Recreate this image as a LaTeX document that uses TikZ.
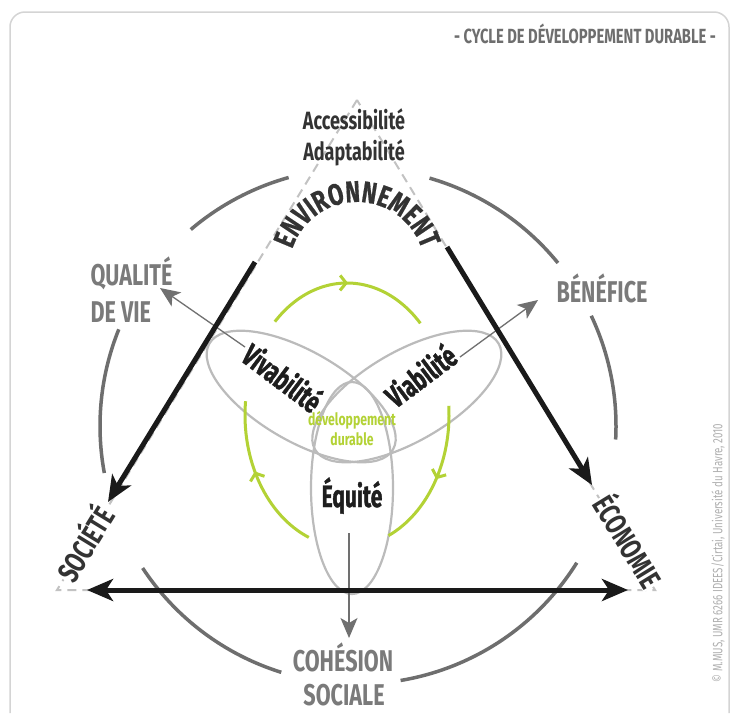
\documentclass[tikz,border=0pt]{standalone}
\usepackage{fontspec}
\setmainfont{Fira Sans}[FakeStretch=0.72]
\newfontfamily\heavyfont{Fira Sans}[FakeStretch=0.68,FakeBold=1.2]
\newfontfamily\envfont{Fira Sans}[FakeStretch=0.74,FakeBold=0.6]
\usetikzlibrary{arrows.meta,decorations.text,decorations.markings}
\definecolor{framecol}{HTML}{D4D4D4}
\definecolor{titlecol}{HTML}{6E6E6E}
\definecolor{darktext}{HTML}{333333}
\definecolor{blacktext}{HTML}{1E1E1E}
\definecolor{labelgray}{HTML}{7A7A7A}
\definecolor{arcgray}{HTML}{6E6E6E}
\definecolor{dashgray}{HTML}{C2C2C2}
\definecolor{ellgray}{HTML}{BBBBBB}
\definecolor{cyclegreen}{HTML}{B3D235}
\definecolor{arrowblack}{HTML}{1A1A1A}
\definecolor{thingray}{HTML}{707070}
\definecolor{copycol}{HTML}{AFAFAF}
\begin{document}
\begin{tikzpicture}[x=1pt,y=1pt,
  bigarrow/.style={arrowblack,line width=5pt,-{Stealth[length=26pt,width=22pt,inset=7pt]}},
  bigdouble/.style={arrowblack,line width=5pt,{Stealth[length=26pt,width=22pt,inset=7pt]}-{Stealth[length=26pt,width=22pt,inset=7pt]}},
  thinarrow/.style={thingray,line width=1.3pt,-{Stealth[length=20pt,width=17pt,inset=5pt]}},
  greyarc/.style={arcgray,line width=3.5pt},
  petal/.style={ellgray,line width=2.2pt},
  greenarc/.style={cyclegreen,line width=3pt,postaction={decorate},
     decoration={markings,mark=at position #1 with {\arrow{Straight Barb[length=6pt,width=15pt,line width=3pt]}}}},
  labelfont/.style={labelgray,font=\fontsize{30}{30}\selectfont\bfseries},
  cornerfont/.style={darktext,font=\fontsize{30}{30}\selectfont\bfseries,fill=white,inner sep=1pt},
  petalfont/.style={blacktext,font=\heavyfont\fontsize{31}{31}\selectfont\bfseries},
  topfont/.style={darktext,font=\fontsize{25}{25}\selectfont\bfseries},
  greenfont/.style={cyclegreen,font=\fontsize{17}{17}\selectfont\bfseries}
]
\useasboundingbox (0,0) rectangle (730,-713);
\fill[white] (0,0) rectangle (730,-713);
% frame
\draw[framecol,line width=1.5pt] (10,-713) -- (10,-27) arc[start angle=180,end angle=90,radius=15]
  -- (714,-12) arc[start angle=90,end angle=0,radius=15] -- (729,-713);
% title
\node[titlecol,font=\fontsize{20.5}{20.5}\selectfont\bfseries,anchor=base] (title) at (585,-43) {- CYCLE DE DÉVELOPPEMENT DURABLE -};
% triangle corners
\coordinate (apex) at (357,-100);
\coordinate (bl) at (57,-590);
\coordinate (br) at (655,-590);
\draw[dashgray,line width=2pt,dash pattern=on 9pt off 6pt] (apex) -- (bl) -- (br) -- cycle;
% big grey circle arcs
\coordinate (cc) at (358,-426);
\draw[greyarc] (cc) ++(105.6:258) arc[start angle=105.6,end angle=130.4,radius=258];
\draw[greyarc] (cc) ++(158:258) arc[start angle=158,end angle=190.5,radius=258];
\draw[greyarc] (cc) ++(213.4:258) arc[start angle=213.4,end angle=252.7,radius=258];
\draw[greyarc] (cc) ++(279.5:258) arc[start angle=279.5,end angle=328,radius=258];
\draw[greyarc] (cc) ++(-3:258) arc[start angle=-3,end angle=25.3,radius=258];
\draw[greyarc] (cc) ++(39.2:258) arc[start angle=39.2,end angle=73.9,radius=258];
% top texts
\node[topfont,anchor=base] (access) at (354,-129) {Accessibilité};
\node[topfont,anchor=base] (adapt) at (354,-160) {Adaptabilité};
\path[decorate,decoration={text along path,text align=center,
   text={|\envfont\fontsize{30}{30}\selectfont\bfseries\color{darktext}|ENVIRONNEMENT}}]
   (357,-270) ++(179:68) arc[start angle=179,end angle=1,radius=68];
% corner texts
\node[cornerfont,rotate=58.5] (soc) at (83,-543) {SOCIÉTÉ};
\node[cornerfont,rotate=-58.5] (eco) at (630,-540) {ÉCONOMIE};
% outer labels
\node[labelfont,anchor=base west] (qual) at (87,-285) {QUALITÉ};
\node[labelfont,anchor=base west] (devie) at (87,-322) {DE VIE};
\node[labelfont,anchor=base west] (bene) at (553,-302) {BÉNÉFICE};
\node[labelfont,anchor=base] (cohe) at (343,-671) {COHÉSION};
\node[labelfont,anchor=base] (soci) at (344,-705) {SOCIALE};
% petals
\draw[petal,rotate around={150:(301.2,-396.5)}] (301.2,-396.5) ellipse[x radius=106,y radius=45];
\draw[petal,rotate around={30:(406.8,-396.5)}] (406.8,-396.5) ellipse[x radius=106,y radius=45];
\draw[petal] (352,-488) ellipse[x radius=41,y radius=106];
% green cycle
\coordinate (gc) at (347,-415);
\draw[greenarc=0.5] (gc) ++(135:102 and 132) arc[start angle=135,end angle=44,x radius=102,y radius=132];
\draw[greenarc=0.5] (gc) ++(4:102 and 132) arc[start angle=4,end angle=-66,x radius=102,y radius=132];
\draw[greenarc=0.55] (gc) ++(248:102 and 132) arc[start angle=248,end angle=174,x radius=102,y radius=132];
% petal texts
\node[petalfont,rotate=-37] (viva) at (283,-377) {Vivabilité};
\node[petalfont,rotate=37] (viab) at (420,-375) {Viabilité};
\node[petalfont,anchor=base] (equi) at (352,-507) {Équité};
\node[greenfont,anchor=base] (dev) at (352,-425) {développement};
\node[greenfont,anchor=base] (dur) at (352,-445) {durable};
% thin arrows
\coordinate (vivaS) at (245,-347);
\coordinate (qualT) at (160,-288);
\coordinate (viabS) at (460,-357);
\coordinate (beneT) at (538,-300);
\coordinate (equiS) at (349,-533);
\coordinate (coheT) at (349,-638);
\draw[thinarrow] (vivaS) -- (qualT);
\draw[thinarrow] (viabS) -- (beneT);
\draw[thinarrow] (equiS) -- (coheT);
% big black arrows
\coordinate (lS) at (255,-262);
\coordinate (lT) at (108,-502);
\coordinate (rS) at (447,-247);
\coordinate (rT) at (592,-485);
\coordinate (bL) at (87,-590);
\coordinate (bR) at (628,-590);
\draw[bigarrow] (lS) -- (lT);
\draw[bigarrow] (rS) -- (rT);
\draw[bigdouble] (bL) -- (bR);
% copyright
\node[copycol,rotate=90,font=\fontsize{13.5}{13.5}\selectfont] (copy) at (718,-553) {© M.MUS, UMR 6266 IDEES/Cirtai, Université du Havre, 2010};
\end{tikzpicture}
\end{document}
